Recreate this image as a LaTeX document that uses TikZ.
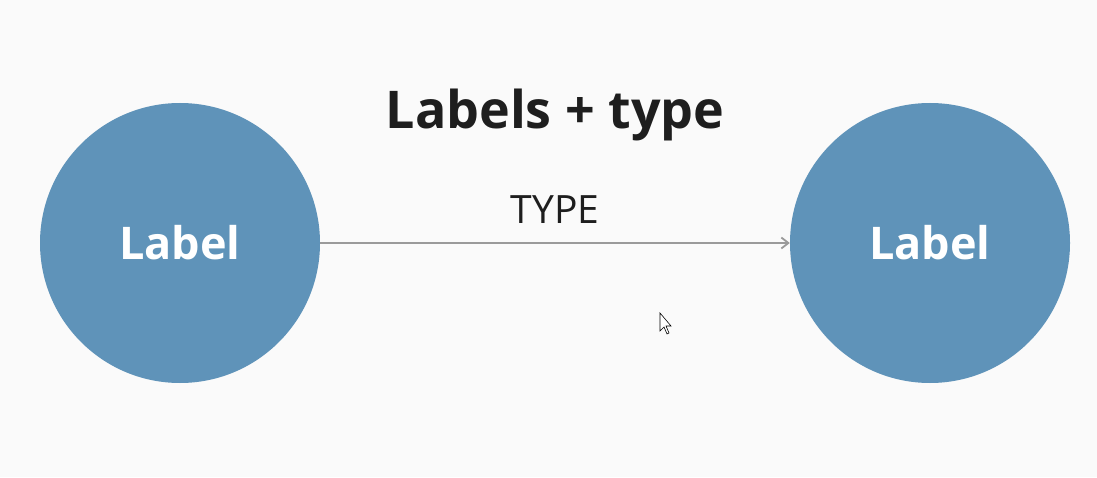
\documentclass[tikz,border=0pt]{standalone}
\usepackage{fontspec}
\setmainfont{Open Sans}
\usetikzlibrary{arrows.meta}
\definecolor{nodeblue}{HTML}{5F93B9}
\definecolor{bg}{HTML}{FAFAFA}
\definecolor{edgegray}{HTML}{9A9A9A}
\definecolor{ink}{HTML}{1E1E1E}
\tikzset{
  entity/.style={circle, fill=nodeblue, draw=none, minimum size=280pt, inner sep=0pt,
    text=white, font=\fontsize{45}{48}\selectfont\bfseries},
  rel/.style={draw=edgegray, line width=1.8pt, -{Straight Barb[length=7pt,width=11pt,line width=1.8pt]}},
  title/.style={text=ink, font=\fontsize{52}{56}\selectfont\bfseries},
  reltext/.style={text=ink, font=\fontsize{39}{42}\selectfont}
}
\begin{document}
\begin{tikzpicture}[x=1pt,y=1pt]
\fill[bg] (0,0) rectangle (1097,477);
\useasboundingbox (0,0) rectangle (1097,477);
\node[title] (t) at (555,362) {Labels + type};
\node[entity] (a) at (180,234) {Label};
\node[entity] (b) at (930,234) {Label};
\draw[rel] (a) -- node[reltext, above=15pt] (lt) {TYPE} (b);
\draw[black, fill=white, line width=0.6pt] (660,164) -- (660,146) -- (664,150) -- (667,143) -- (669,144) -- (666,151) -- (671,151) -- cycle;
\end{tikzpicture}
\end{document}
